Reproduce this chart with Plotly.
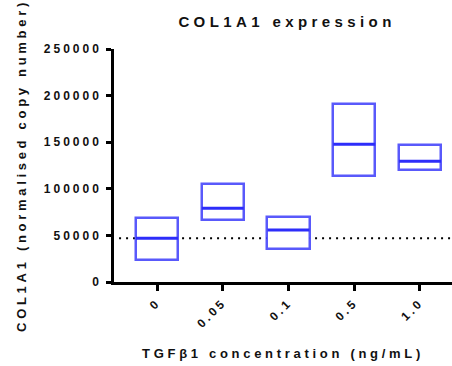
import plotly.graph_objects as go

# TGF-beta1 dose groups and COL1A1 copy-number summaries (min / mean / max)
doses = ["0", "0.05", "0.1", "0.5", "1.0"]
low_vals = [23300, 66200, 35700, 113700, 120500]
mean_vals = [46900, 79100, 55800, 147700, 129500]
high_vals = [69000, 104800, 70100, 190700, 147000]

box_line = "rgba(60,60,250,0.85)"
mean_line = "rgb(45,45,250)"
font_family = "Liberation Sans, Arial, sans-serif"

fig = go.Figure()

# floating boxes spanning min..max
fig.add_trace(go.Bar(
    x=doses,
    y=[h - l for h, l in zip(high_vals, low_vals)],
    base=low_vals,
    width=0.64,
    marker=dict(color="white", line=dict(color=box_line, width=2.5)),
    hoverinfo="skip",
    showlegend=False,
))

# mean line inside each box
fig.add_trace(go.Scatter(
    x=doses,
    y=mean_vals,
    mode="markers",
    marker=dict(symbol="line-ew", size=30, line=dict(color=mean_line, width=3)),
    showlegend=False,
))

# dotted reference at the untreated mean
fig.add_shape(
    type="line", xref="paper", yref="y",
    x0=0.015, x1=1.0, y0=mean_vals[0], y1=mean_vals[0],
    line=dict(color="black", width=2, dash="2px,5px"),
    layer="below",
)

axis_font = dict(family=font_family, size=12, color="#111", weight="bold")
title_font = dict(family=font_family, size=13, color="#111", weight="bold")

fig.update_layout(
    width=452, height=366,
    margin=dict(l=114, r=0, t=49, b=84),
    paper_bgcolor="white", plot_bgcolor="white",
    title=dict(
        text="COL1A1 expression",
        x=0.512, xref="paper", y=1 - 22 / 366, yref="container",
        xanchor="center", yanchor="middle",
        font=dict(family=font_family, size=15, color="#111", weight="bold"),
    ),
    xaxis=dict(
        type="category",
        range=[-0.654, 4.487],
        showline=True, linecolor="black", linewidth=2.5,
        ticks="outside", ticklen=6, tickwidth=2.5, tickcolor="black",
        tickangle=-45, tickfont=axis_font, ticklabelstandoff=0,
        showgrid=False, zeroline=False,
        title=dict(text="TGFβ1 concentration (ng/mL)", font=title_font, standoff=28),
    ),
    yaxis=dict(
        range=[0, 250000],
        tickvals=[0, 50000, 100000, 150000, 200000, 250000],
        ticktext=["0", "50000", "100000", "150000", "200000", "250000"],
        showline=True, linecolor="black", linewidth=2.5,
        ticks="outside", ticklen=5, tickwidth=2.5, tickcolor="black",
        tickfont=axis_font, ticklabelstandoff=2,
        showgrid=False, zeroline=False,
        title=dict(text="COL1A1 (normalised copy number)", font=title_font, standoff=33),
    ),
    bargap=0,
)

# wide letter spacing for all chart text
spacing_css = """
var s = document.createElement('style');
s.textContent = '.gtitle{letter-spacing:4.4px}' +
  '.xtitle,.ytitle{letter-spacing:3.7px}' +
  '.xtick text,.ytick text{letter-spacing:3px}';
document.head.appendChild(s);
"""

fig.write_html("out.html", post_script=spacing_css)
